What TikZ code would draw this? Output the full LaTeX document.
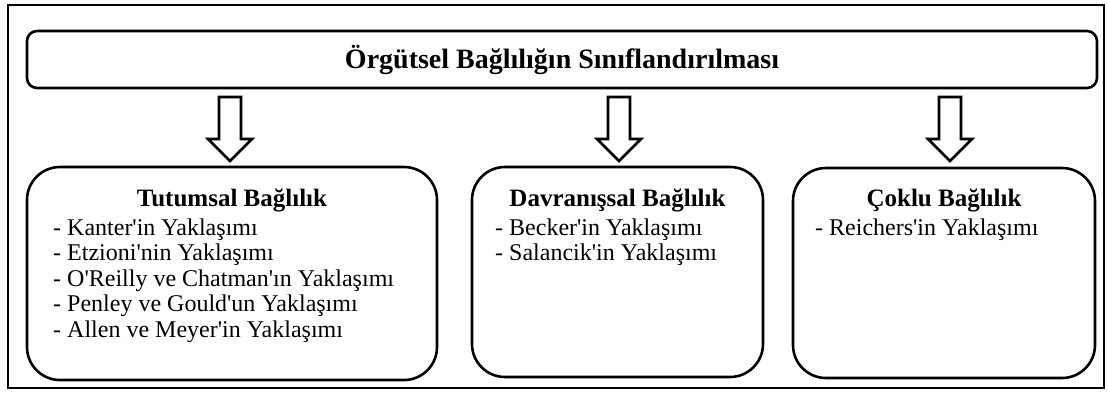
\documentclass[tikz,border=0pt]{standalone}
\usepackage{fontspec}
\setmainfont{Liberation Serif}[Ligatures=TeXOff]

\tikzset{
  titlebox/.style={draw, line width=2.6pt, rounded corners=10pt, inner sep=0pt},
  catbox/.style={draw, line width=2.6pt, rounded corners=33pt, inner sep=0pt},
  blockarrow/.style={draw, line width=2.6pt, line join=miter},
  head/.style={font=\fontsize{25}{28}\selectfont\bfseries, anchor=base, inner sep=0pt},
  item/.style={font=\fontsize{24}{28}\selectfont, anchor=base west, inner sep=0pt}
}

\begin{document}
\begin{tikzpicture}[x=1pt, y=-1pt]
      \useasboundingbox (0,0) rectangle (1108,392);
      \draw[line width=2pt] (8,5) rectangle (1104,388);

      % top box
      \node[titlebox, minimum width=1070pt, minimum height=57pt] (title) at (562,59.5) {};
      \node[head, font=\fontsize{28}{32}\selectfont\bfseries] (titletext) at (562,68) {Örgütsel Bağlılığın Sınıflandırılması};

      % hollow arrows down to the boxes
      \coordinate (arr1) at (230,97);
      \coordinate (arr2) at (619,97);
      \coordinate (arr3) at (950,97);
      \foreach \a in {arr1,arr2,arr3}
        \draw[blockarrow] (\a) ++(-11,0) -- ++(0,42) -- ++(-11,0) -- ++(22,22)
          -- ++(22,-22) -- ++(-11,0) -- ++(0,-42) -- cycle;

      % three boxes
      \node[catbox, minimum width=410pt, minimum height=213pt] (tutum) at (232,273.5) {};
      \node[catbox, minimum width=291pt, minimum height=210pt] (davran) at (617.5,272) {};
      \node[catbox, minimum width=302pt, minimum height=210pt] (coklu) at (944,273) {};

      \node[head] (tutumhead) at (232,206) {Tutumsal Bağlılık};
      \node[head] (davranhead) at (617.5,206) {Davranışsal Bağlılık};
      \node[head] (cokluhead) at (944,206) {Çoklu Bağlılık};

      \foreach \t [count=\i from 0] in {Kanter'in Yaklaşımı, Etzioni'nin Yaklaşımı,
          O'Reilly ve Chatman'ın Yaklaşımı, Penley ve Gould'un Yaklaşımı,
          Allen ve Meyer'in Yaklaşımı}
        \node[item] (tutum\i) at (53,235+25.5*\i) {- \t};
      \foreach \t [count=\i from 0] in {Becker'in Yaklaşımı, Salancik'in Yaklaşımı}
        \node[item] (davran\i) at (495,235+25.5*\i) {- \t};
      \node[item] (coklu0) at (815,235) {- Reichers'in Yaklaşımı};
    \end{tikzpicture}
\end{document}
